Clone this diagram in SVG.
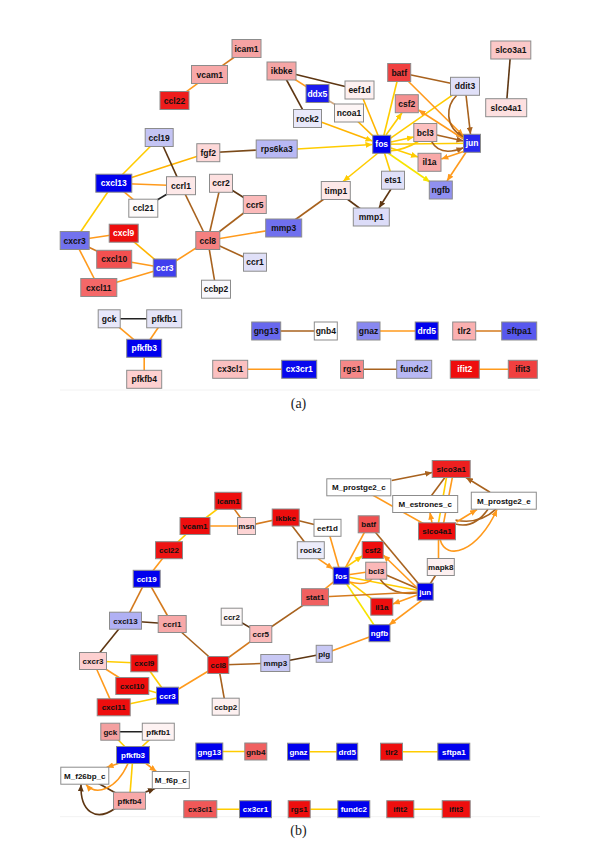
<svg xmlns="http://www.w3.org/2000/svg" width="600" height="867" viewBox="0 0 600 867">
<style>
.n rect{stroke:#8c8c8c;stroke-width:1}
.n text{font-family:"Liberation Sans",Arial,sans-serif;font-weight:bold;font-size:8.5px;text-anchor:middle;fill:#111}
.pb .n text{font-size:8px}
.n.w text{fill:#fff}
.e line,.e path{fill:none;stroke-width:1.6}
.y{stroke:#ffcc00}.yb{stroke:#f7e400}.yo{stroke:#ffb400}.o{stroke:#ff9a1c}.ob{stroke:#d47a1e}.b{stroke:#a8621e}.d{stroke:#5e3612}.k{stroke:#222}.t{stroke:#cfa882}
.lab{font-family:"Liberation Serif","Times New Roman",serif;font-size:14px;text-anchor:middle;fill:#222}
</style>
<defs>
<marker id="mY" markerUnits="userSpaceOnUse" markerWidth="7" markerHeight="6" refX="7" refY="3" orient="auto"><path d="M0,0L7,3L0,6z" fill="#ffcc00"/></marker>
<marker id="mYB" markerUnits="userSpaceOnUse" markerWidth="7" markerHeight="6" refX="7" refY="3" orient="auto"><path d="M0,0L7,3L0,6z" fill="#f7e400"/></marker>
<marker id="mO" markerUnits="userSpaceOnUse" markerWidth="7" markerHeight="6" refX="7" refY="3" orient="auto"><path d="M0,0L7,3L0,6z" fill="#ff9a1c"/></marker>
<marker id="mB" markerUnits="userSpaceOnUse" markerWidth="7" markerHeight="6" refX="7" refY="3" orient="auto"><path d="M0,0L7,3L0,6z" fill="#a8621e"/></marker>
<marker id="mD" markerUnits="userSpaceOnUse" markerWidth="7" markerHeight="6" refX="7" refY="3" orient="auto"><path d="M0,0L7,3L0,6z" fill="#5e3612"/></marker>
</defs>
<rect width="600" height="867" fill="#fff"/>
<line x1="60" y1="390" x2="540" y2="390" stroke="#f2f2f2" stroke-width="1"/>
<line x1="60" y1="816.7" x2="540" y2="816.7" stroke="#f2f2f2" stroke-width="1"/>

<g id="edges-a" class="e">
<line class="ob" x1="246.5" y1="48.5" x2="209.7" y2="74.7"/>
<line class="o" x1="209.7" y1="74.7" x2="174.5" y2="100.3"/>
<line class="d" x1="510.8" y1="50" x2="506.2" y2="107.7"/>
<line class="d" x1="281.7" y1="71" x2="359.5" y2="90"/>
<line class="o" x1="281.7" y1="71" x2="317.3" y2="93.7"/>
<line class="d" x1="281.7" y1="71" x2="307.5" y2="118.7"/>
<line class="t" x1="317.3" y1="93.7" x2="349" y2="113"/>
<line class="b" x1="399.2" y1="72.5" x2="465" y2="86.3"/>
<line class="y" x1="399.2" y1="72.5" x2="381.7" y2="144.3"/>
<line class="y" x1="465" y1="86.3" x2="381.7" y2="144.3"/>
<line class="y" x1="381.7" y1="144.3" x2="472" y2="143.3"/>
<line class="yo" x1="349" y1="113" x2="381.7" y2="144.3"/>
<line class="yo" x1="359.5" y1="90" x2="381.7" y2="144.3"/>
<line class="y" x1="381.7" y1="144.3" x2="393" y2="180.2"/>
<path class="y" d="M389,151 Q405,150 419,141"/>
<line class="d" x1="335.8" y1="190.5" x2="371.3" y2="217"/>
<line class="b" x1="335.8" y1="190.5" x2="283.7" y2="228"/>
<line stroke="#7a4a1a" x1="208.3" y1="152.7" x2="276.7" y2="149"/>
<line class="yo" x1="208.3" y1="152.7" x2="113.8" y2="183.2"/>
<line class="y" x1="159.2" y1="137.5" x2="113.8" y2="183.2"/>
<line class="d" x1="159.2" y1="137.5" x2="181" y2="185.7"/>
<line class="o" x1="113.8" y1="183.2" x2="181" y2="185.7"/>
<line class="o" x1="113.8" y1="183.2" x2="143.3" y2="208.2"/>
<line class="k" x1="143.3" y1="208.2" x2="181" y2="185.7"/>
<line class="y" x1="113.8" y1="183.2" x2="74.7" y2="240.5"/>
<line class="b" x1="181" y1="185.7" x2="207.8" y2="240.5"/>
<line class="b" x1="221" y1="183.3" x2="207.8" y2="240.5"/>
<line class="d" x1="221" y1="183.3" x2="254.8" y2="204.5"/>
<line class="b" x1="254.8" y1="204.5" x2="207.8" y2="240.5"/>
<line class="o" x1="207.8" y1="240.5" x2="283.7" y2="228"/>
<line class="b" x1="207.8" y1="240.5" x2="255" y2="262.2"/>
<line class="b" x1="207.8" y1="240.5" x2="216" y2="289.2"/>
<line class="o" x1="207.8" y1="240.5" x2="164.8" y2="268"/>
<line class="o" x1="74.7" y1="240.5" x2="123.7" y2="233.2"/>
<line class="ob" x1="74.7" y1="240.5" x2="114.2" y2="259.3"/>
<line class="o" x1="74.7" y1="240.5" x2="98.8" y2="287.5"/>
<line class="yo" x1="123.7" y1="233.2" x2="164.8" y2="268"/>
<line class="o" x1="114.2" y1="259.3" x2="164.8" y2="268"/>
<line class="o" x1="98.8" y1="287.5" x2="164.8" y2="268"/>
<line class="k" x1="109.2" y1="318.8" x2="164.2" y2="318.8"/>
<line class="o" x1="109.2" y1="318.8" x2="144.2" y2="348.3"/>
<line class="o" x1="164.2" y1="318.8" x2="144.2" y2="348.3"/>
<line class="o" x1="144.2" y1="348.3" x2="144.2" y2="379.3"/>
<line class="b" x1="266.2" y1="331" x2="325.8" y2="331"/>
<line class="o" x1="368.5" y1="331" x2="426.7" y2="331"/>
<line class="ob" x1="464.2" y1="331" x2="519.2" y2="331"/>
<line class="o" x1="230.2" y1="369.3" x2="299.2" y2="369.3"/>
<line class="b" x1="352" y1="369.3" x2="414.2" y2="369.3"/>
<line class="o" x1="464.8" y1="369.3" x2="522.8" y2="369.3"/>
<!-- arrows -->
<line class="y" x1="297" y1="149" x2="372.5" y2="144.5" marker-end="url(#mY)"/>
<line class="yo" x1="321" y1="122" x2="372.5" y2="141" marker-end="url(#mY)"/>
<line class="y" x1="378" y1="153" x2="343" y2="181.5" marker-end="url(#mY)"/>
<line class="d" x1="391" y1="189" x2="379" y2="208" marker-end="url(#mD)"/>
<line class="y" x1="386" y1="135" x2="402" y2="112.7" marker-end="url(#mY)"/>
<line class="y" x1="391" y1="142" x2="413.8" y2="137" marker-end="url(#mY)"/>
<line class="y" x1="391" y1="148" x2="418" y2="157" marker-end="url(#mY)"/>
<line class="yb" x1="388" y1="153" x2="430" y2="182" marker-end="url(#mYB)"/>
<line class="o" x1="408" y1="81" x2="463.5" y2="136" marker-end="url(#mO)"/>
<line class="b" x1="466" y1="95" x2="470.5" y2="134.3" marker-end="url(#mB)"/>
<path class="b" d="M456.7,95.3 C446,106 444,126 463.5,137.3" marker-end="url(#mB)"/>
<line class="o" x1="463.5" y1="139" x2="418.5" y2="110" marker-end="url(#mO)"/>
<line class="b" x1="436.8" y1="135" x2="463.5" y2="141" marker-end="url(#mB)"/>
<path class="b" d="M431.7,141.7 Q440,157 463.5,147.7" marker-end="url(#mB)"/>
<line class="o" x1="465" y1="151" x2="441.3" y2="159" marker-end="url(#mO)"/>
<line class="o" x1="466" y1="152.3" x2="447" y2="181" marker-end="url(#mO)"/>
</g>

<g id="nodes-a">
<g id="a-icam1" class="n"><rect x="232" y="39.5" width="29" height="18" fill="#f5a3a3"/><text x="246.5" y="51.5">icam1</text></g>
<g id="a-vcam1" class="n"><rect x="191.5" y="65.5" width="36" height="18" fill="#f7a8a8"/><text x="209.7" y="77.7">vcam1</text></g>
<g id="a-ccl22" class="n"><rect x="160" y="91.5" width="29" height="18" fill="#ee1c1c"/><text x="174.5" y="103.5">ccl22</text></g>
<g id="a-ikbke" class="n"><rect x="267" y="62" width="29" height="18" fill="#f5a5a5"/><text x="281.7" y="74">ikbke</text></g>
<g id="a-ddx5" class="n w"><rect x="306" y="84.5" width="23" height="18" fill="#1a1aee"/><text x="317.3" y="96.7">ddx5</text></g>
<g id="a-eef1d" class="n"><rect x="345" y="81" width="29" height="18" fill="#fdf0f0"/><text x="359.5" y="93">eef1d</text></g>
<g id="a-rock2" class="n"><rect x="293.5" y="109.5" width="28" height="18" fill="#e8e8fa"/><text x="307.5" y="121.7">rock2</text></g>
<g id="a-ncoa1" class="n"><rect x="334.5" y="104" width="29" height="18" fill="#fdf5f5"/><text x="349" y="116">ncoa1</text></g>
<g id="a-batf" class="n"><rect x="387.7" y="63.5" width="23" height="18" fill="#f04040"/><text x="399.2" y="75.5">batf</text></g>
<g id="a-ddit3" class="n"><rect x="450.5" y="77.3" width="29" height="18" fill="#e0e0f8"/><text x="465" y="89.3">ddit3</text></g>
<g id="a-slco3a1" class="n"><rect x="490.8" y="41" width="40" height="18" fill="#fbc8c8"/><text x="510.8" y="53">slco3a1</text></g>
<g id="a-slco4a1" class="n"><rect x="485.7" y="98.7" width="41" height="18" fill="#fde0e0"/><text x="506.2" y="110.7">slco4a1</text></g>
<g id="a-csf2" class="n"><rect x="395.3" y="94.7" width="23" height="18" fill="#f59090"/><text x="406.8" y="106.7">csf2</text></g>
<g id="a-bcl3" class="n"><rect x="413.8" y="123.5" width="23" height="18" fill="#fbc0c0"/><text x="425.3" y="135.5">bcl3</text></g>
<g id="a-fos" class="n w"><rect x="372.7" y="135.3" width="18" height="18" fill="#0000ee"/><text x="381.7" y="147.3">fos</text></g>
<g id="a-jun" class="n w"><rect x="463.5" y="134.3" width="17" height="18" fill="#2828f0"/><text x="472" y="146.3">jun</text></g>
<g id="a-il1a" class="n"><rect x="418" y="153.3" width="23" height="18" fill="#f8a8a8"/><text x="429.5" y="165.3">il1a</text></g>
<g id="a-ngfb" class="n"><rect x="429.3" y="181" width="23" height="18" fill="#9090f0"/><text x="440.8" y="193">ngfb</text></g>
<g id="a-rps6ka3" class="n"><rect x="256.2" y="140" width="41" height="18" fill="#b8b8f4"/><text x="276.7" y="152">rps6ka3</text></g>
<g id="a-ets1" class="n"><rect x="381.5" y="171.2" width="23" height="18" fill="#e0e0f8"/><text x="393" y="183.2">ets1</text></g>
<g id="a-timp1" class="n"><rect x="321.3" y="181.5" width="29" height="18" fill="#fde8e8"/><text x="335.8" y="193.5">timp1</text></g>
<g id="a-mmp1" class="n"><rect x="353.3" y="208" width="36" height="18" fill="#dcdcf8"/><text x="371.3" y="220">mmp1</text></g>
<g id="a-fgf2" class="n"><rect x="196.8" y="143.7" width="23" height="18" fill="#fdd8d8"/><text x="208.3" y="155.7">fgf2</text></g>
<g id="a-ccl19" class="n"><rect x="145.2" y="128.5" width="28" height="18" fill="#c4c4f4"/><text x="159.2" y="140.5">ccl19</text></g>
<g id="a-cxcl13" class="n w"><rect x="95.8" y="174.2" width="36" height="18" fill="#0000ee"/><text x="113.8" y="186.2">cxcl13</text></g>
<g id="a-ccrl1" class="n"><rect x="166.5" y="176.7" width="29" height="18" fill="#fde8e8"/><text x="181" y="188.7">ccrl1</text></g>
<g id="a-ccl21" class="n"><rect x="128.8" y="199.2" width="29" height="18" fill="#fdfafa"/><text x="143.3" y="211.2">ccl21</text></g>
<g id="a-ccr2" class="n"><rect x="209.5" y="174.3" width="23" height="18" fill="#fde0e0"/><text x="221" y="186.3">ccr2</text></g>
<g id="a-ccr5" class="n"><rect x="243.3" y="195.5" width="23" height="18" fill="#fbbaba"/><text x="254.8" y="207.5">ccr5</text></g>
<g id="a-mmp3" class="n"><rect x="265.7" y="219" width="36" height="18" fill="#7070ee"/><text x="283.7" y="231">mmp3</text></g>
<g id="a-ccl8" class="n"><rect x="195.8" y="231.5" width="24" height="18" fill="#f58080"/><text x="207.8" y="243.5">ccl8</text></g>
<g id="a-ccr1" class="n"><rect x="243.5" y="253.2" width="23" height="18" fill="#e0e0f8"/><text x="255" y="265.2">ccr1</text></g>
<g id="a-ccbp2" class="n"><rect x="201.5" y="280.2" width="29" height="18" fill="#f8f8fd"/><text x="216" y="292.2">ccbp2</text></g>
<g id="a-cxcr3" class="n"><rect x="60.2" y="231.5" width="29" height="18" fill="#7272ee"/><text x="74.7" y="243.5">cxcr3</text></g>
<g id="a-cxcl9" class="n w"><rect x="109.2" y="224.2" width="29" height="18" fill="#ee0e0e"/><text x="123.7" y="236.2">cxcl9</text></g>
<g id="a-cxcl10" class="n"><rect x="96.7" y="250.3" width="35" height="18" fill="#f25050"/><text x="114.2" y="262.3">cxcl10</text></g>
<g id="a-ccr3" class="n w"><rect x="153.3" y="259" width="23" height="18" fill="#4040ee"/><text x="164.8" y="271">ccr3</text></g>
<g id="a-cxcl11" class="n"><rect x="80.8" y="278.5" width="36" height="18" fill="#f46868"/><text x="98.8" y="290.5">cxcl11</text></g>
<g id="a-gck" class="n"><rect x="98.2" y="309.8" width="22" height="18" fill="#e8e8fa"/><text x="109.2" y="321.8">gck</text></g>
<g id="a-pfkfb1" class="n"><rect x="146.7" y="309.8" width="35" height="18" fill="#e4e4f8"/><text x="164.2" y="321.8">pfkfb1</text></g>
<g id="a-pfkfb3" class="n w"><rect x="126.7" y="339.3" width="35" height="18" fill="#0000ee"/><text x="144.2" y="351.3">pfkfb3</text></g>
<g id="a-pfkfb4" class="n"><rect x="126.7" y="370.3" width="35" height="18" fill="#fdd0d0"/><text x="144.2" y="382.3">pfkfb4</text></g>
<g id="a-gng13" class="n"><rect x="251.7" y="322" width="29" height="18" fill="#6868ee"/><text x="266.2" y="334">gng13</text></g>
<g id="a-gnb4" class="n"><rect x="314.3" y="322" width="23" height="18" fill="#ffffff"/><text x="325.8" y="334">gnb4</text></g>
<g id="a-gnaz" class="n"><rect x="357" y="322" width="23" height="18" fill="#8888f0"/><text x="368.5" y="334">gnaz</text></g>
<g id="a-drd5" class="n w"><rect x="415.2" y="322" width="23" height="18" fill="#0000ee"/><text x="426.7" y="334">drd5</text></g>
<g id="a-tlr2" class="n"><rect x="452.7" y="322" width="23" height="18" fill="#fab0b0"/><text x="464.2" y="334">tlr2</text></g>
<g id="a-sftpa1" class="n"><rect x="501.7" y="322" width="35" height="18" fill="#5858ee"/><text x="519.2" y="334">sftpa1</text></g>
<g id="a-cx3cl1" class="n"><rect x="212.7" y="360.3" width="35" height="18" fill="#fbc0c0"/><text x="230.2" y="372.3">cx3cl1</text></g>
<g id="a-cx3cr1" class="n w"><rect x="281.7" y="360.3" width="35" height="18" fill="#0808ee"/><text x="299.2" y="372.3">cx3cr1</text></g>
<g id="a-rgs1" class="n"><rect x="340.5" y="360.3" width="23" height="18" fill="#f58888"/><text x="352" y="372.3">rgs1</text></g>
<g id="a-fundc2" class="n"><rect x="396.7" y="360.3" width="35" height="18" fill="#b8b8f4"/><text x="414.2" y="372.3">fundc2</text></g>
<g id="a-ifit2" class="n w"><rect x="450.3" y="360.3" width="29" height="18" fill="#ee0e0e"/><text x="464.8" y="372.3">ifit2</text></g>
<g id="a-ifit3" class="n"><rect x="508.3" y="360.3" width="29" height="18" fill="#f04040"/><text x="522.8" y="372.3">ifit3</text></g>
</g>
<text class="lab" x="298.5" y="407.5">(a)</text>

<g id="edges-b" class="e">
<line class="y" x1="228.3" y1="500.8" x2="195" y2="526"/>
<line class="ob" x1="228.3" y1="500.8" x2="246.5" y2="526"/>
<line class="o" x1="195" y1="526" x2="246.5" y2="526"/>
<line class="ob" x1="246.5" y1="526" x2="285.7" y2="517.5"/>
<line class="y" x1="195" y1="526" x2="169" y2="550.2"/>
<line class="o" x1="169" y1="550.2" x2="146.7" y2="578.8"/>
<line class="ob" x1="146.7" y1="578.8" x2="125.5" y2="620.7"/>
<line class="ob" x1="146.7" y1="578.8" x2="172.2" y2="624"/>
<line class="d" x1="125.5" y1="620.7" x2="172.2" y2="624"/>
<line class="d" x1="125.5" y1="620.7" x2="93" y2="661"/>
<line class="b" x1="172.2" y1="624" x2="218.3" y2="665"/>
<line class="d" x1="231.7" y1="616.7" x2="260.8" y2="634"/>
<line class="ob" x1="260.8" y1="634" x2="218.3" y2="665"/>
<line class="b" x1="260.8" y1="634" x2="315" y2="597.2"/>
<line class="b" x1="218.3" y1="665" x2="275.3" y2="663"/>
<line class="b" x1="218.3" y1="665" x2="225.7" y2="706.7"/>
<line class="o" x1="218.3" y1="665" x2="167.5" y2="695.7"/>
<line class="y" x1="93" y1="661" x2="144.3" y2="663.3"/>
<line class="o" x1="93" y1="661" x2="132.3" y2="686"/>
<line class="o" x1="93" y1="661" x2="113.7" y2="707.3"/>
<line class="y" x1="144.3" y1="663.3" x2="167.5" y2="695.7"/>
<line class="y" x1="132.3" y1="686" x2="167.5" y2="695.7"/>
<line class="y" x1="113.7" y1="707.3" x2="167.5" y2="695.7"/>
<line class="d" x1="275.3" y1="663" x2="324.2" y2="653.8"/>
<line class="o" x1="324.2" y1="653.8" x2="379.5" y2="633.2"/>
<line class="b" x1="285.7" y1="517.5" x2="327.5" y2="527.8"/>
<line class="b" x1="285.7" y1="517.5" x2="310.8" y2="550.2"/>
<line class="o" x1="327.5" y1="527.8" x2="341.2" y2="575.7"/>
<line class="o" x1="368.7" y1="524.3" x2="341.2" y2="575.7"/>
<line class="b" x1="368.7" y1="524.3" x2="425.2" y2="591.7"/>
<line class="o" x1="341.2" y1="575.7" x2="376.2" y2="570.7"/>
<line class="y" x1="341.2" y1="575.7" x2="425.2" y2="591.7"/>
<line class="o" x1="341.2" y1="575.7" x2="315" y2="597.2"/>
<line class="y" x1="341.2" y1="575.7" x2="381.8" y2="606.7"/>
<line class="yb" x1="341.2" y1="575.7" x2="379.5" y2="633.2"/>
<path class="b" d="M380,579 Q392,596 417.2,593"/>
<path class="o" d="M349,582 Q366,586 372,579"/>
<line class="b" x1="376.2" y1="570.7" x2="425.2" y2="591.7"/>
<line class="ob" x1="315" y1="597.2" x2="425.2" y2="591.7"/>
<line class="b" x1="425.2" y1="591.7" x2="440.8" y2="567"/>
<line class="o" x1="438.5" y1="567" x2="438.5" y2="531.3"/>
<line class="o" x1="358.8" y1="487.3" x2="437" y2="531.3"/>
<line class="b" x1="425.2" y1="504" x2="451.2" y2="469"/>
<line class="y" x1="437" y1="531.3" x2="448" y2="469"/>
<line class="o" x1="442" y1="531.3" x2="454" y2="469"/>
<path class="b" d="M455.5,524 Q474,529 488,509.2"/>
<path class="b" d="M455.5,520 Q479,525 496,509.2"/>
<line class="k" x1="110.3" y1="731.7" x2="158.3" y2="731.7"/>
<line class="y" x1="110.3" y1="731.7" x2="133" y2="755"/>
<line class="y" x1="158.3" y1="731.7" x2="133" y2="755"/>
<line class="y" x1="133" y1="755" x2="129.5" y2="800.7"/>
<line class="d" x1="84.8" y1="775.7" x2="129.5" y2="800.7"/>
<line class="y" x1="209.3" y1="751.5" x2="255.8" y2="751.5"/>
<line class="y" x1="298.5" y1="751.7" x2="347.2" y2="751.7"/>
<line class="y" x1="391.5" y1="751.7" x2="453.8" y2="751.7"/>
<line class="y" x1="200.3" y1="809.2" x2="255.5" y2="809.2"/>
<line class="y" x1="299.2" y1="809.2" x2="353.8" y2="809.2"/>
<line class="y" x1="400.3" y1="809.2" x2="456.2" y2="809.2"/>
<!-- arrows -->
<line class="o" x1="318" y1="558.7" x2="333.2" y2="569" marker-end="url(#mO)"/>
<line class="y" x1="346" y1="567.2" x2="362.2" y2="556" marker-end="url(#mY)"/>
<line class="o" x1="417.2" y1="588" x2="383.2" y2="555" marker-end="url(#mO)"/>
<line class="o" x1="417.2" y1="595" x2="392.8" y2="604" marker-end="url(#mO)"/>
<line class="o" x1="422" y1="600.2" x2="389" y2="625" marker-end="url(#mO)"/>
<line class="b" x1="391.7" y1="480.5" x2="432.2" y2="472.5" marker-end="url(#mB)"/>
<line class="b" x1="490" y1="492.2" x2="466" y2="477.5" marker-end="url(#mB)"/>
<line class="o" x1="432" y1="522.8" x2="430" y2="512.5" marker-end="url(#mO)"/>
<line class="o" x1="456.5" y1="522" x2="477" y2="509.5" marker-end="url(#mO)"/>
<path class="o" d="M440,539.3 C446,562 478,552 497,509.5" marker-end="url(#mO)"/>
<line class="o" x1="118.3" y1="763.5" x2="106.5" y2="767.5" marker-end="url(#mO)"/>
<path class="o" d="M128,763.5 C116,790 96,796 86,784.5" marker-end="url(#mO)"/>
<line class="o" x1="146" y1="763.5" x2="156.5" y2="771.7" marker-end="url(#mO)"/>
<path class="d" d="M115,808.5 C96,822 80,812 81,784.5" marker-end="url(#mD)"/>
<path class="d" d="M145.5,792 Q150,790.5 155,788.5" marker-end="url(#mD)"/>
</g>

<g id="nodes-b" class="pb">
<g id="b-icam1" class="n"><rect x="214.8" y="492.3" width="27" height="17" fill="#ee0e0e"/><text x="228.3" y="503.8">icam1</text></g>
<g id="b-vcam1" class="n"><rect x="180" y="517.5" width="30" height="17" fill="#ee0e0e"/><text x="195" y="529">vcam1</text></g>
<g id="b-msn" class="n"><rect x="237.5" y="517.5" width="18" height="17" fill="#fdd4d4"/><text x="246.5" y="529">msn</text></g>
<g id="b-ccl22" class="n"><rect x="155.5" y="541.7" width="27" height="17" fill="#ee1414"/><text x="169" y="553.2">ccl22</text></g>
<g id="b-ccl19" class="n w"><rect x="133.2" y="570.3" width="27" height="17" fill="#0000ee"/><text x="146.7" y="581.8">ccl19</text></g>
<g id="b-ikbke" class="n"><rect x="272.2" y="509" width="27" height="17" fill="#ee0e0e"/><text x="285.7" y="520.5">ikbke</text></g>
<g id="b-eef1d" class="n"><rect x="314" y="519.3" width="27" height="17" fill="#ffffff"/><text x="327.5" y="530.8">eef1d</text></g>
<g id="b-M_prostge2_c" class="n"><rect x="326.8" y="478.8" width="64" height="17" fill="#ffffff"/><text x="358.8" y="490.3">M_prostge2_c</text></g>
<g id="b-batf" class="n"><rect x="358.2" y="515.8" width="21" height="17" fill="#f05050"/><text x="368.7" y="527.3">batf</text></g>
<g id="b-slco3a1" class="n"><rect x="432.2" y="460.5" width="38" height="17" fill="#ee2020"/><text x="451.2" y="472">slco3a1</text></g>
<g id="b-M_estrones_c" class="n"><rect x="392.7" y="495.5" width="65" height="17" fill="#ffffff"/><text x="425.2" y="507">M_estrones_c</text></g>
<g id="b-M_prostge2_e" class="n"><rect x="471.3" y="492.2" width="65" height="17" fill="#ffffff"/><text x="503.8" y="503.7">M_prostge2_e</text></g>
<g id="b-slco4a1" class="n"><rect x="418.5" y="522.8" width="37" height="17" fill="#ee0e0e"/><text x="437" y="534.3">slco4a1</text></g>
<g id="b-rock2" class="n"><rect x="297.3" y="541.7" width="27" height="17" fill="#ececfa"/><text x="310.8" y="553.2">rock2</text></g>
<g id="b-csf2" class="n"><rect x="362.2" y="541.5" width="21" height="17" fill="#ee0e0e"/><text x="372.7" y="553">csf2</text></g>
<g id="b-bcl3" class="n"><rect x="365.7" y="562.2" width="21" height="17" fill="#fbb8b8"/><text x="376.2" y="573.7">bcl3</text></g>
<g id="b-fos" class="n w"><rect x="333.2" y="567.2" width="16" height="17" fill="#0000ee"/><text x="341.2" y="578.7">fos</text></g>
<g id="b-mapk8" class="n"><rect x="427.3" y="558.5" width="27" height="17" fill="#fdf0f0"/><text x="440.8" y="570">mapk8</text></g>
<g id="b-jun" class="n w"><rect x="417.2" y="583.2" width="16" height="17" fill="#0000ee"/><text x="425.2" y="594.7">jun</text></g>
<g id="b-stat1" class="n"><rect x="301.5" y="588.7" width="27" height="17" fill="#f06060"/><text x="315" y="600.2">stat1</text></g>
<g id="b-il1a" class="n"><rect x="370.8" y="598.2" width="22" height="17" fill="#ee0e0e"/><text x="381.8" y="609.7">il1a</text></g>
<g id="b-ngfb" class="n w"><rect x="369" y="624.7" width="21" height="17" fill="#0000ee"/><text x="379.5" y="636.2">ngfb</text></g>
<g id="b-plg" class="n"><rect x="316.2" y="645.3" width="16" height="17" fill="#c8c8f4"/><text x="324.2" y="656.8">plg</text></g>
<g id="b-cxcl13" class="n"><rect x="109.5" y="612.2" width="32" height="17" fill="#b0b0f4"/><text x="125.5" y="623.7">cxcl13</text></g>
<g id="b-ccrl1" class="n"><rect x="158.2" y="615.5" width="28" height="17" fill="#f8a8a8"/><text x="172.2" y="627">ccrl1</text></g>
<g id="b-ccr2" class="n"><rect x="221.2" y="608.2" width="21" height="17" fill="#fdf8f8"/><text x="231.7" y="619.7">ccr2</text></g>
<g id="b-ccr5" class="n"><rect x="249.8" y="625.5" width="22" height="17" fill="#fbbaba"/><text x="260.8" y="637">ccr5</text></g>
<g id="b-cxcr3" class="n"><rect x="79.5" y="652.5" width="27" height="17" fill="#fdd0d0"/><text x="93" y="664">cxcr3</text></g>
<g id="b-cxcl9" class="n"><rect x="130.8" y="654.8" width="27" height="17" fill="#ee0e0e"/><text x="144.3" y="666.3">cxcl9</text></g>
<g id="b-ccl8" class="n"><rect x="207.8" y="656.5" width="21" height="17" fill="#ee0e0e"/><text x="218.3" y="668">ccl8</text></g>
<g id="b-mmp3" class="n"><rect x="260.8" y="654.5" width="29" height="17" fill="#c8c8f4"/><text x="275.3" y="666">mmp3</text></g>
<g id="b-cxcl10" class="n"><rect x="115.8" y="677.5" width="33" height="17" fill="#ee0e0e"/><text x="132.3" y="689">cxcl10</text></g>
<g id="b-ccr3" class="n w"><rect x="156.5" y="687.2" width="22" height="17" fill="#0000ee"/><text x="167.5" y="698.7">ccr3</text></g>
<g id="b-cxcl11" class="n"><rect x="97.2" y="698.8" width="33" height="17" fill="#ee0e0e"/><text x="113.7" y="710.3">cxcl11</text></g>
<g id="b-ccbp2" class="n"><rect x="212.2" y="698.2" width="27" height="17" fill="#fdf0f0"/><text x="225.7" y="709.7">ccbp2</text></g>
<g id="b-gck" class="n"><rect x="100.8" y="723.2" width="19" height="17" fill="#f4a0a0"/><text x="110.3" y="734.7">gck</text></g>
<g id="b-pfkfb1" class="n"><rect x="142.3" y="723.2" width="32" height="17" fill="#fdf2f2"/><text x="158.3" y="734.7">pfkfb1</text></g>
<g id="b-pfkfb3" class="n w"><rect x="116.5" y="746.5" width="33" height="17" fill="#0000ee"/><text x="133" y="758">pfkfb3</text></g>
<g id="b-M_f26bp_c" class="n"><rect x="60.8" y="767.2" width="48" height="17" fill="#ffffff"/><text x="84.8" y="778.7">M_f26bp_c</text></g>
<g id="b-M_f6p_c" class="n"><rect x="152.3" y="771.5" width="37" height="17" fill="#ffffff"/><text x="170.8" y="783">M_f6p_c</text></g>
<g id="b-pfkfb4" class="n"><rect x="113.5" y="792.2" width="32" height="17" fill="#f8a8a8"/><text x="129.5" y="803.7">pfkfb4</text></g>
<g id="b-gng13" class="n w"><rect x="195.8" y="743" width="27" height="17" fill="#0000ee"/><text x="209.3" y="754.5">gng13</text></g>
<g id="b-gnb4" class="n"><rect x="244.8" y="743" width="22" height="17" fill="#f06060"/><text x="255.8" y="754.5">gnb4</text></g>
<g id="b-gnaz" class="n w"><rect x="287.5" y="743.2" width="22" height="17" fill="#0000ee"/><text x="298.5" y="754.7">gnaz</text></g>
<g id="b-drd5" class="n w"><rect x="336.7" y="743.2" width="21" height="17" fill="#0000ee"/><text x="347.2" y="754.7">drd5</text></g>
<g id="b-tlr2" class="n"><rect x="380.5" y="743.2" width="22" height="17" fill="#ee0e0e"/><text x="391.5" y="754.7">tlr2</text></g>
<g id="b-sftpa1" class="n w"><rect x="437.8" y="743.2" width="32" height="17" fill="#0000ee"/><text x="453.8" y="754.7">sftpa1</text></g>
<g id="b-cx3cl1" class="n"><rect x="183.8" y="800.7" width="33" height="17" fill="#f05858"/><text x="200.3" y="812.2">cx3cl1</text></g>
<g id="b-cx3cr1" class="n w"><rect x="239.5" y="800.7" width="32" height="17" fill="#0000ee"/><text x="255.5" y="812.2">cx3cr1</text></g>
<g id="b-rgs1" class="n"><rect x="288.2" y="800.7" width="22" height="17" fill="#ee0e0e"/><text x="299.2" y="812.2">rgs1</text></g>
<g id="b-fundc2" class="n w"><rect x="337.8" y="800.7" width="32" height="17" fill="#0000ee"/><text x="353.8" y="812.2">fundc2</text></g>
<g id="b-ifit2" class="n"><rect x="386.8" y="800.7" width="27" height="17" fill="#ee0e0e"/><text x="400.3" y="812.2">ifit2</text></g>
<g id="b-ifit3" class="n"><rect x="442.2" y="800.7" width="28" height="17" fill="#ee0e0e"/><text x="456.2" y="812.2">ifit3</text></g>
</g>
<text class="lab" x="298.5" y="834.5">(b)</text>
</svg>
